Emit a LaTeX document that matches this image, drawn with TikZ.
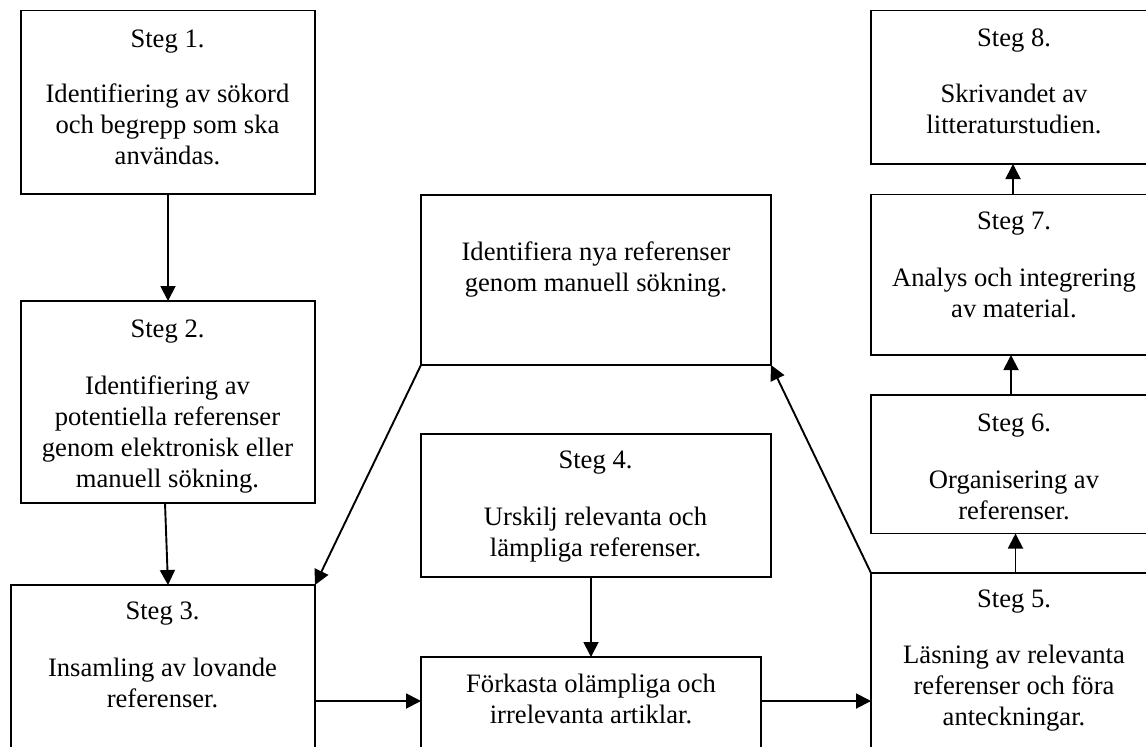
\documentclass[tikz,border=0pt]{standalone}
\usepackage{fontspec}
\setmainfont{Liberation Serif}
\usetikzlibrary{arrows.meta,calc}
\newcommand{\fl}{\rule{0pt}{20pt}}
\begin{document}
\begin{tikzpicture}[x=1pt,y=-1pt,
  box/.style={draw, line width=1.8pt, inner sep=0pt, outer sep=0pt},
  txt/.style={anchor=north, inner sep=0pt, outer sep=0pt, align=center, font=\fontsize{26.6}{31}\selectfont},
  arr/.style={line width=1.9pt, -{Triangle[length=15pt,width=15pt]}}]
\fill[white] (0,0) rectangle (1146,747);
\useasboundingbox (0,0) rectangle (1146,747);
% boxes
\node[box, minimum width=294pt, minimum height=183.5pt] (b1) at (168,102.25) {};
\node[box, minimum width=294pt, minimum height=202pt] (b2) at (168,402) {};
\node[box, minimum width=304pt, minimum height=175pt] (b3) at (163,672.5) {};
\node[box, minimum width=350pt, minimum height=170pt] (bN) at (596,280) {};
\node[box, minimum width=350pt, minimum height=143pt] (b4) at (596,505.5) {};
\node[box, minimum width=340pt, minimum height=103pt] (bF) at (591,708.5) {};
\node[box, minimum width=289pt, minimum height=187pt] (b5) at (1015.5,666.5) {};
\node[box, minimum width=289pt, minimum height=138.5pt] (b6) at (1015.5,464.25) {};
\node[box, minimum width=289pt, minimum height=160.5pt] (b7) at (1015.5,274.75) {};
\node[box, minimum width=289pt, minimum height=153.5pt] (b8) at (1015.5,87.25) {};
% texts
\node[txt] (t1s) at (167.5,27.5) {\fl Steg 1.};
\node[txt] (t1) at (167.5,82.5) {\fl Identifiering av sökord\\och begrepp som ska\\användas.};
\node[txt] (t2s) at (167.5,317) {\fl Steg 2.};
\node[txt] (t2) at (167.5,374.5) {\fl Identifiering av\\potentiella referenser\\genom elektronisk eller\\manuell sökning.};
\node[txt] (t3s) at (162.5,599) {\fl Steg 3.};
\node[txt] (t3) at (162.5,656.5) {\fl Insamling av lovande\\referenser.};
\node[txt] (tN) at (596,240.5) {\fl Identifiera nya referenser\\genom manuell sökning.};
\node[txt] (t4s) at (595.5,448) {\fl Steg 4.};
\node[txt] (t4) at (595.5,505) {\fl Urskilj relevanta och\\lämpliga referenser.};
\node[txt] (tF) at (591,672.5) {\fl Förkasta olämpliga och\\irrelevanta artiklar.};
\node[txt] (t5s) at (1014,587.5) {\fl Steg 5.};
\node[txt] (t5) at (1014,643.5) {\fl Läsning av relevanta\\referenser och föra\\anteckningar.};
\node[txt] (t6s) at (1014,411) {\fl Steg 6.};
\node[txt] (t6) at (1014,468) {\fl Organisering av\\referenser.};
\node[txt] (t7s) at (1014,209.6) {\fl Steg 7.};
\node[txt] (t7) at (1014,266) {\fl Analys och integrering\\av material.};
\node[txt] (t8s) at (1014,26.7) {\fl Steg 8.};
\node[txt] (t8) at (1014,82.4) {\fl Skrivandet av\\litteraturstudien.};
% connectors
\coordinate (row) at (0,701);
\draw[arr] (b1.south) -- (b2.north);
\draw[arr] ([xshift=-3pt]b2.south) -- ([xshift=5pt]b3.north);
\draw[arr] (bN.south west) -- (b3.north east);
\draw[arr] (b5.north west) -- (bN.south east);
\draw[arr] (b4.south -| bF.north) -- (bF.north);
\draw[arr] (b3.east |- row) -- (bF.west |- row);
\draw[arr] (bF.east |- row) -- (b5.west |- row);
\draw[arr] (b5.north) -- (b6.south);
\draw[arr] ([xshift=-4.5pt]b6.north) -- ([xshift=-4.5pt]b7.south);
\draw[arr] ([xshift=-2.5pt]b7.north) -- ([xshift=-2.5pt]b8.south);
\end{tikzpicture}
\end{document}
